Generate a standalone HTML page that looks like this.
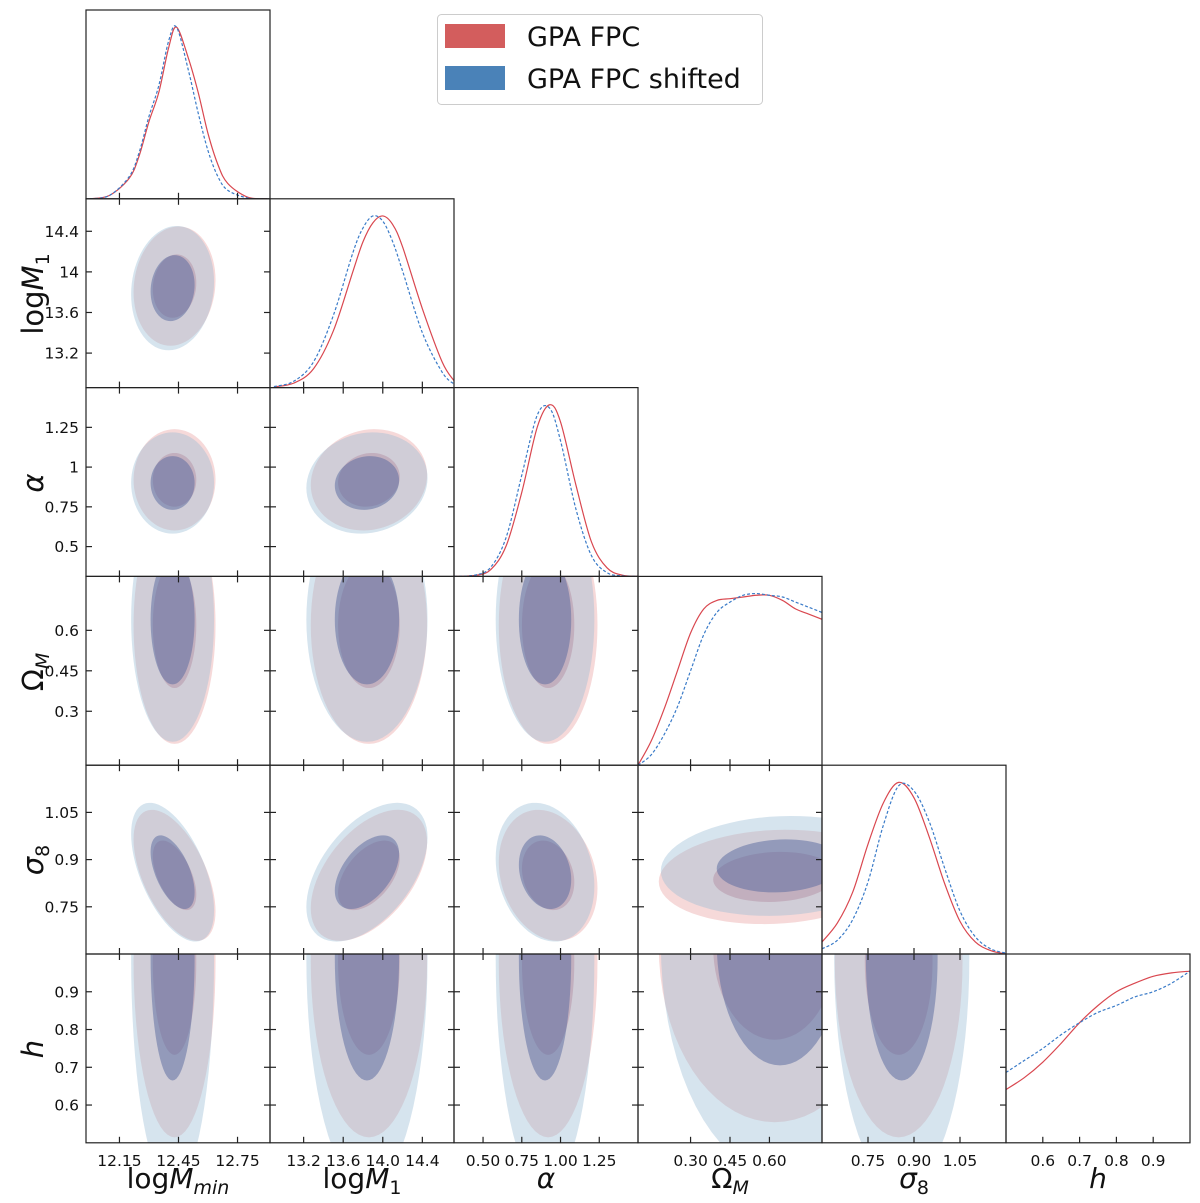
<!DOCTYPE html>
<html><head><meta charset="utf-8">
<style>
html,body{margin:0;padding:0;background:#fff;}
svg{display:block;font-family:"DejaVu Sans","Liberation Sans",sans-serif;}
</style></head>
<body>
<svg id="fig" width="1200" height="1203" viewBox="0 0 1200 1203" xmlns="http://www.w3.org/2000/svg">
<defs id="defs"></defs>
<g id="fills"></g>
<g id="lines"></g>
<g id="frames"></g>
<g id="labels"></g>
<g>
  <rect x="437.5" y="14.5" width="325" height="90" rx="4" fill="#fff" stroke="#cccccc" stroke-width="1"/>
  <rect x="445" y="24" width="60" height="24" fill="#d35d5d"/>
  <text x="527" y="46" font-size="27" fill="#111">GPA FPC</text>
  <rect x="445" y="66" width="60" height="24" fill="#4a82b8"/>
  <text x="527" y="88" font-size="27" fill="#111">GPA FPC shifted</text>
</g>
</svg>
<script>
const NS='http://www.w3.org/2000/svg';
const paramNames=['logMmin','logM1','alpha','OmegaM','sigma8','h'];
const rangeLo=[11.98,12.86,0.3125,0.1,0.6,0.5];
const rangeHi=[12.915,14.72,1.5,0.8,1.2,1.0];
const tickVals=[[12.15,12.45,12.75],[13.2,13.6,14.0,14.4],[0.5,0.75,1.0,1.25],[0.3,0.45,0.6],[0.75,0.9,1.05],[0.6,0.7,0.8,0.9]];
const xTickLabels=[['12.15','12.45','12.75'],['13.2','13.6','14.0','14.4'],['0.50','0.75','1.00','1.25'],['0.30','0.45','0.60'],['0.75','0.90','1.05'],['0.6','0.7','0.8','0.9']];
const yTickLabels=[[],['13.2','13.6','14','14.4'],['0.5','0.75','1','1.25'],['0.3','0.45','0.6'],['0.75','0.9','1.05'],['0.6','0.7','0.8','0.9']];

// 1D marginals (normalised to peak)
const gridLogMmin=[12.0,12.1,12.2,12.25,12.3,12.35,12.4,12.44,12.5,12.55,12.6,12.65,12.7,12.8,12.9];
const redLogMmin=[0,0.02,0.12,0.25,0.45,0.62,0.88,1.0,0.82,0.62,0.38,0.2,0.09,0.01,0];
const blueLogMmin=[0,0.02,0.13,0.27,0.48,0.66,0.92,1.0,0.75,0.5,0.28,0.13,0.05,0.005,0];
const gridLogM1=[12.9,13.1,13.3,13.5,13.7,13.8,13.9,14.0,14.1,14.2,14.4,14.6,14.72];
const redLogM1=[0.004,0.026,0.11,0.33,0.68,0.85,0.96,1.0,0.95,0.82,0.46,0.15,0.04];
const blueLogM1=[0.006,0.037,0.15,0.42,0.79,0.93,1.0,0.97,0.85,0.68,0.32,0.09,0.02];
const gridAlpha=[0.3125,0.45,0.55,0.65,0.75,0.85,0.93,1.0,1.1,1.2,1.3,1.4,1.5];
const redAlpha=[0,0.006,0.04,0.18,0.49,0.87,1.0,0.9,0.53,0.2,0.05,0.007,0];
const blueAlpha=[0,0.008,0.054,0.23,0.59,0.94,0.98,0.79,0.39,0.12,0.022,0.003,0];
const gridOmegaM=[0.1,0.15,0.2,0.25,0.3,0.35,0.4,0.45,0.5,0.55,0.6,0.65,0.7,0.75,0.8];
const redOmegaM=[0,0.14,0.33,0.55,0.77,0.91,0.96,0.97,0.98,0.99,0.99,0.96,0.91,0.88,0.85];
const blueOmegaM=[0,0.06,0.18,0.34,0.55,0.76,0.89,0.95,0.99,1.0,0.99,0.98,0.95,0.92,0.89];
const gridSigma8=[0.6,0.65,0.7,0.75,0.8,0.85,0.9,0.95,1.0,1.05,1.1,1.15,1.2];
const redSigma8=[0.07,0.18,0.36,0.64,0.88,1.0,0.91,0.68,0.41,0.19,0.07,0.02,0];
const blueSigma8=[0.03,0.08,0.2,0.42,0.75,0.98,0.95,0.77,0.5,0.25,0.1,0.03,0.005];
const gridH=[0.5,0.55,0.6,0.65,0.7,0.75,0.8,0.85,0.9,0.95,1.0];
const redH=[0.31,0.38,0.47,0.58,0.70,0.80,0.88,0.93,0.97,0.99,1.0];
const blueH=[0.41,0.48,0.55,0.63,0.70,0.76,0.80,0.85,0.88,0.93,1.0];

// 2D contour summaries
const meanRed=[12.43,13.86,0.92,0.62,0.85,0.98];
const meanBlue=[12.42,13.84,0.90,0.64,0.86,0.99];
const sdRed=[0.085,0.24,0.13,0.18,0.085,0.19];
const sdBlue=[0.086,0.25,0.13,0.185,0.09,0.25];
const corrPairs=['0-1','0-2','1-2','0-4','1-4','2-4','3-4','0-3','1-3','2-3','0-5','1-5','2-5','3-5','4-5'];
const corrValues=[0.1,0.0,0.1,-0.55,0.5,-0.2,0.1,0,0,0,0,0,0,0,0];
// per-panel spread of the row parameter (relative), for non-Gaussian panels
const pairYSpread=[1,1,1,1,1,1,0.72,1,1,1,1,1,1,1,1];
const pairYShiftRed=[0,0,0,0,0,0,-0.005,0,0,0,0,0,0,0.04,0];
const pairYShiftBlue=[0,0,0,0,0,0,0.02,0,0,0,0,0,0,0.04,0];

const grids=[gridLogMmin,gridLogM1,gridAlpha,gridOmegaM,gridSigma8,gridH];
const reds=[redLogMmin,redLogM1,redAlpha,redOmegaM,redSigma8,redH];
const blues=[blueLogMmin,blueLogM1,blueAlpha,blueOmegaM,blueSigma8,blueH];

const L0=86, PW=184, T0=10, PH=188.8;
function colX(c){return L0+PW*c;}
function rowY(r){return T0+PH*r;}
function sx(p,v,c){return colX(c)+(v-rangeLo[p])/(rangeHi[p]-rangeLo[p])*PW;}
function sy(p,v,r){return rowY(r)+PH-(v-rangeLo[p])/(rangeHi[p]-rangeLo[p])*PH;}

const svg=document.getElementById('fig');
const defs=document.getElementById('defs');
const gFills=document.getElementById('fills');
const gLines=document.getElementById('lines');
const gFrames=document.getElementById('frames');
const gLabels=document.getElementById('labels');
function mk(tag,attrs,parent){const e=document.createElementNS(NS,tag);for(const k in attrs)e.setAttribute(k,attrs[k]);parent.appendChild(e);return e;}

function clipFor(r,c){
  const id='clip-'+r+'-'+c;
  const cp=mk('clipPath',{id:id},defs);
  mk('rect',{x:colX(c),y:rowY(r),width:PW,height:PH},cp);
  return 'url(#'+id+')';
}
function smoothPath(pts){
  let d='M'+pts[0][0].toFixed(2)+','+pts[0][1].toFixed(2);
  for(let i=0;i<pts.length-1;i++){
    const p0=pts[Math.max(0,i-1)],p1=pts[i],p2=pts[i+1],p3=pts[Math.min(pts.length-1,i+2)];
    const c1x=p1[0]+(p2[0]-p0[0])/6,c1y=p1[1]+(p2[1]-p0[1])/6;
    const c2x=p2[0]-(p3[0]-p1[0])/6,c2y=p2[1]-(p3[1]-p1[1])/6;
    d+=' C'+c1x.toFixed(2)+','+c1y.toFixed(2)+' '+c2x.toFixed(2)+','+c2y.toFixed(2)+' '+p2[0].toFixed(2)+','+p2[1].toFixed(2);
  }
  return d;
}
function pairIdx(a,b){return corrPairs.indexOf(Math.min(a,b)+'-'+Math.max(a,b));}
function ellipsePath(r,c,mean,sd,k,isRed){
  const pi=pairIdx(r,c);
  const rho=pi<0?0:corrValues[pi];
  const spread=pi<0?1:pairYSpread[pi];
  const shift=pi<0?0:(isRed?pairYShiftRed[pi]:pairYShiftBlue[pi]);
  const s=Math.sqrt(1-rho*rho);
  const pts=[];
  for(let t=0;t<72;t++){
    const a=t/72*Math.PI*2;
    const xd=mean[c]+k*sd[c]*Math.cos(a);
    const yd=mean[r]+shift+k*sd[r]*spread*(rho*Math.cos(a)+s*Math.sin(a));
    pts.push(sx(c,xd,c).toFixed(2)+','+sy(r,yd,r).toFixed(2));
  }
  return 'M'+pts.join(' L')+' Z';
}

// 2D panels
for(let r=1;r<6;r++){
  for(let c=0;c<r;c++){
    const g=mk('g',{'clip-path':clipFor(r,c)},gFills);
    
    
    const layers=[[meanRed,sdRed,2.45,'#e8a0a0',0.4,'red-95',true],[meanBlue,sdBlue,2.45,'#98bbd4',0.4,'blue-95',false],[meanRed,sdRed,1.3,'#a8788f',0.35,'red-68',true],[meanBlue,sdBlue,1.3,'#56689e',0.5,'blue-68',false]];
    for(const ly of layers){
      const p=mk('path',{d:ellipsePath(r,c,ly[0],ly[1],ly[2],ly[6]),fill:ly[3],'fill-opacity':ly[4]},g);
      
      
    }
  }
}
// 1D panels
for(let i=0;i<6;i++){
  const g=mk('g',{'clip-path':clipFor(i,i)},gLines);
  
  
  const series=[[reds[i],'#d9474f',null,'red'],[blues[i],'#3a7bc8','3,2','blue']];
  for(const s of series){
    const pts=grids[i].map((v,k)=>[sx(i,v,i),rowY(i)+PH-s[0][k]/1.1*PH]);
    const attrs={d:smoothPath(pts),fill:'none',stroke:s[1],'stroke-width':1.2};
    if(s[2])attrs['stroke-dasharray']=s[2];
    const p=mk('path',attrs,g);
    
    
  }
}
// frames & ticks
for(let r=0;r<6;r++){
  for(let c=0;c<=r;c++){
    const x0=colX(c),y0=rowY(r);
    const f=mk('rect',{x:x0,y:y0,width:PW,height:PH,fill:'none',stroke:'#222','stroke-width':1.2},gFrames);
    
    
    tickVals[c].forEach(v=>{
      const x=sx(c,v,c);
      mk('line',{x1:x,x2:x,y1:y0+PH,y2:y0+PH-6,stroke:'#222','stroke-width':1.2},gFrames);
      if(r!==c)mk('line',{x1:x,x2:x,y1:y0,y2:y0+6,stroke:'#222','stroke-width':1.2},gFrames);
    });
    if(r!==c){
      tickVals[r].forEach(v=>{
        const y=sy(r,v,r);
        mk('line',{x1:x0,x2:x0+6,y1:y,y2:y,stroke:'#222','stroke-width':1.2},gFrames);
        mk('line',{x1:x0+PW,x2:x0+PW-6,y1:y,y2:y,stroke:'#222','stroke-width':1.2},gFrames);
      });
    }
  }
}
// tick labels
for(let c=0;c<6;c++){
  tickVals[c].forEach((v,k)=>{
    const t=mk('text',{x:sx(c,v,c),y:1166,'font-size':15.5,'text-anchor':'middle',fill:'#111'},gLabels);
    t.textContent=xTickLabels[c][k];
    
    
  });
}
for(let r=1;r<6;r++){
  tickVals[r].forEach((v,k)=>{
    const t=mk('text',{x:79,y:sy(r,v,r)+5.5,'font-size':15.5,'text-anchor':'end',fill:'#111'},gLabels);
    t.textContent=yTickLabels[r][k];
    
    
  });
}
</script>
<script>
(function(){
const NS='http://www.w3.org/2000/svg';
const svg=document.getElementById('fig');
const xl=[
 ['log','M','min',178],['log','M','1',362],['','α','',546],['','Ω','M',730],['','σ','8',914],['','h','',1098]];
const names=['x-axis-title-logmmin','x-axis-title-logm1','x-axis-title-alpha','x-axis-title-omegam','x-axis-title-sigma8','x-axis-title-h'];
xl.forEach((a,i)=>{
  const t=document.createElementNS(NS,'text');
  t.setAttribute('x',a[3]);t.setAttribute('y',1188);t.setAttribute('font-size',28);t.setAttribute('text-anchor','middle');t.setAttribute('fill','#111');
  
  
  let h='';
  if(a[0])h+='<tspan>'+a[0]+'</tspan>';
  h+='<tspan font-style="'+(a[1]==='Ω'?'normal':'italic')+'">'+a[1]+'</tspan>';
  if(a[2])h+='<tspan font-size="19" dy="6" font-style="'+(a[2]==='min'||a[2]==='M'?'italic':'normal')+'">'+a[2]+'</tspan>';
  t.innerHTML=h;
  svg.appendChild(t);
});
const yl=[['log','M','1',294],['','α','',483],['','Ω','M',672],['','σ','8',860],['','h','',1049]];
const ynames=['y-axis-title-logm1','y-axis-title-alpha','y-axis-title-omegam','y-axis-title-sigma8','y-axis-title-h'];
yl.forEach((a,i)=>{
  const t=document.createElementNS(NS,'text');
  t.setAttribute('x',0);t.setAttribute('y',0);t.setAttribute('font-size',29);t.setAttribute('text-anchor','middle');t.setAttribute('fill','#111');
  t.setAttribute('transform','translate(43,'+a[3]+') rotate(-90)');
  
  
  let h='';
  if(a[0])h+='<tspan>'+a[0]+'</tspan>';
  h+='<tspan font-style="'+(a[1]==='Ω'?'normal':'italic')+'">'+a[1]+'</tspan>';
  if(a[2])h+='<tspan font-size="19" dy="6" font-style="'+(a[2]==='M'?'italic':'normal')+'">'+a[2]+'</tspan>';
  t.innerHTML=h;
  svg.appendChild(t);
});
})();
</script>
</body></html>
